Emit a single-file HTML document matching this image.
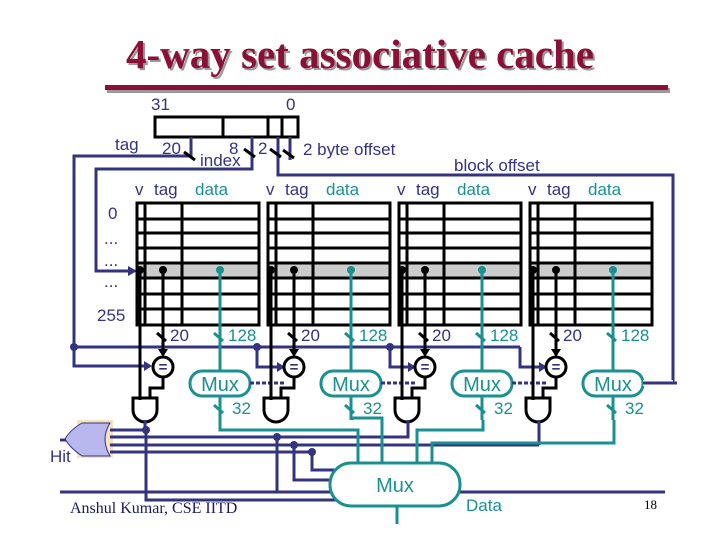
<!DOCTYPE html>
<html><head><meta charset="utf-8"><style>
html,body{margin:0;padding:0;background:#fff;}
svg{display:block}
.s{font-family:"Liberation Sans",sans-serif;font-size:17px;fill:#333380}
.t{font-family:"Liberation Sans",sans-serif;font-size:17px;fill:#1a9090}
</style></head><body>
<svg width="720" height="540" viewBox="0 0 720 540" xmlns="http://www.w3.org/2000/svg">
<!-- title -->
<text x="362" y="70" text-anchor="middle" font-family="Liberation Serif" font-weight="bold" font-size="41" fill="#999">4-way set associative cache</text>
<text x="360" y="68" text-anchor="middle" font-family="Liberation Serif" font-weight="bold" font-size="41" fill="#8b1038">4-way set associative cache</text>
<rect x="107" y="88" width="563" height="5" fill="#999"/>
<rect x="105" y="85" width="563" height="5" fill="#8b1038"/>

<!-- address -->
<text class="s" x="151" y="110">31</text><text class="s" x="286" y="110">0</text>
<rect x="155" y="117" width="143" height="20" fill="#fff" stroke="#000" stroke-width="3"/>
<g stroke="#000" stroke-width="3"><line x1="223" y1="117" x2="223" y2="137"/><line x1="268" y1="117" x2="268" y2="137"/><line x1="282" y1="117" x2="282" y2="137"/></g>
<g fill="none" stroke="#333380" stroke-width="3">
<polyline points="191,137 191,156 74,156 74,366 150,366"/>
<polyline points="252,137 252,169 96,169 96,271 130,271"/>
<polyline points="278,137 278,175 673,175 673,383 645,383"/>
<line x1="290" y1="137" x2="290" y2="160"/>
<line x1="74" y1="347" x2="520" y2="347"/>
<polyline points="257,347 257,367 282,367"/>
<polyline points="390,347 390,367 413,367"/>
<polyline points="520,347 520,367 544,367"/>
</g>
<polygon points="137,271 128,266 128,276" fill="#333380"/>
<g fill="#333380"><polygon points="152,366 144,361 144,371"/><polygon points="285,367 277,362 277,372"/><polygon points="416,367 408,362 408,372"/><polygon points="547,367 539,362 539,372"/>
<circle cx="74" cy="347" r="4"/><circle cx="257" cy="347" r="4"/><circle cx="390" cy="347" r="4"/></g>
<g stroke="#000" stroke-width="3"><line x1="184" y1="152" x2="195" y2="160"/><line x1="244" y1="149" x2="255" y2="157"/><line x1="270" y1="149" x2="281" y2="157"/><line x1="283" y1="150" x2="294" y2="158"/></g>
<text class="s" x="115" y="150">tag</text><text class="s" x="162" y="154">20</text>
<text class="s" x="229" y="154">8</text><text class="s" x="200" y="166">index</text>
<text class="s" x="258" y="154">2</text><text class="s" x="303" y="155">2 byte offset</text>
<text class="s" x="454" y="171">block offset</text>
<text class="s" x="108" y="219">0</text>
<text class="s" x="104" y="244">...</text><text class="s" x="104" y="266">...</text><text class="s" x="104" y="287">...</text>
<text class="s" x="97" y="321">255</text>
<text class="s" x="50" y="462">Hit</text>

<!-- arrays -->
<g id="arr">
<text class="s" x="135" y="195">v</text><text class="s" x="154" y="195">tag</text><text class="t" x="195" y="195">data</text>
<rect x="137" y="263" width="122" height="15" fill="#ccc"/>
<g stroke="#000" stroke-width="3" fill="none">
<rect x="137" y="203" width="122" height="122"/>
<line x1="137" y1="219" x2="259" y2="219"/><line x1="137" y1="233" x2="259" y2="233"/><line x1="137" y1="248" x2="259" y2="248"/><line x1="137" y1="263" x2="259" y2="263"/><line x1="137" y1="278" x2="259" y2="278"/><line x1="137" y1="294" x2="259" y2="294"/><line x1="137" y1="309" x2="259" y2="309"/>
<line x1="145" y1="203" x2="145" y2="325"/><line x1="182" y1="203" x2="182" y2="325"/>
<line x1="140" y1="270" x2="140" y2="400"/>
<line x1="163" y1="270" x2="163" y2="355"/>
<circle cx="163" cy="367" r="10"/>
<polyline points="163,377 163,388 150,388 150,398"/>
<path d="M133,398 H157 V410 A12,12 0 0 1 133,410 Z"/>
<line x1="157" y1="333" x2="166" y2="341"/>
</g>
<polygon points="163,357 158,349 168,349" fill="#000"/>
<circle cx="140" cy="270" r="4" fill="#000"/><circle cx="163" cy="270" r="4" fill="#000"/>
<text x="163" y="372" text-anchor="middle" font-family="Liberation Sans" font-size="15" font-weight="bold" fill="#333380">=</text>
<text class="s" x="170" y="341">20</text>
<g stroke="#1a9090" stroke-width="3" fill="none">
<line x1="220" y1="270" x2="220" y2="371"/>
<rect x="190" y="371" width="60" height="25" rx="12" fill="#fff"/>
<line x1="220" y1="396" x2="220" y2="420"/>
<line x1="214" y1="333" x2="223" y2="341"/><line x1="214" y1="405" x2="223" y2="413"/>
</g>
<circle cx="220" cy="270" r="4" fill="#1a9090"/>
<text class="t" x="228" y="341">128</text><text class="t" x="232" y="414">32</text>
<text class="t" x="220" y="391" text-anchor="middle" style="font-size:20px">Mux</text>
<line x1="250" y1="383" x2="286" y2="383" stroke="#333380" stroke-width="3" stroke-dasharray="4,2"/>
</g>
<use href="#arr" x="131"/><use href="#arr" x="262"/><use href="#arr" x="393"/>
<rect x="643" y="380" width="30" height="6" fill="#fff"/>
<line x1="643" y1="383" x2="673" y2="383" stroke="#333380" stroke-width="3"/>

<!-- OR gate -->
<rect x="77" y="420" width="36" height="38" fill="#f6e2c0"/>
<path d="M82,423 H110 Q100,439 110,456 H82 Q70,448 65,439 Q70,430 82,423 Z" fill="#b8b8ee" stroke="#333380" stroke-width="1"/>
<line x1="60" y1="440" x2="66" y2="440" stroke="#333380" stroke-width="3"/>
<g fill="none" stroke="#333380" stroke-width="3">
<polyline points="110,430 145,430 145,420"/>
<polyline points="110,437 408,437 408,420"/>
<polyline points="146,430 146,500 340,500"/>
<polyline points="277,437 277,492"/>
<polyline points="294,445 294,480 334,480"/>
<polyline points="312,452 312,470 336,470"/>
<line x1="60" y1="492" x2="665" y2="492"/>
<line x1="110" y1="452" x2="312" y2="452"/>
<line x1="110" y1="445" x2="539" y2="445"/>
<line x1="539" y1="420" x2="539" y2="445"/>
</g>
<g fill="#333380"><circle cx="146" cy="430" r="4"/><circle cx="277" cy="437" r="4"/><circle cx="294" cy="445" r="4"/><circle cx="312" cy="452" r="4"/></g>

<!-- teal to big mux -->
<g fill="none" stroke="#1a9090" stroke-width="3">
<polyline points="220,420 220,430 358,430 358,464"/>
<polyline points="352,420 352,418 382,418 382,464"/>
<polyline points="483,420 483,430 417,430 417,464"/>
<polyline points="614,420 614,443 432,443 432,464"/>
<rect x="330" y="463" width="130" height="43" rx="21" fill="#fff"/>
<line x1="397" y1="506" x2="397" y2="524"/>
</g>
<text class="t" x="395" y="492" text-anchor="middle" style="font-size:20px">Mux</text>
<text class="t" x="466" y="511">Data</text>
<text x="70" y="513" font-family="Liberation Serif" font-size="16" fill="#1a1a60">Anshul Kumar, CSE IITD</text>
<text x="644" y="509" font-family="Liberation Serif" font-size="13" fill="#000">18</text>
</svg>
</body></html>
